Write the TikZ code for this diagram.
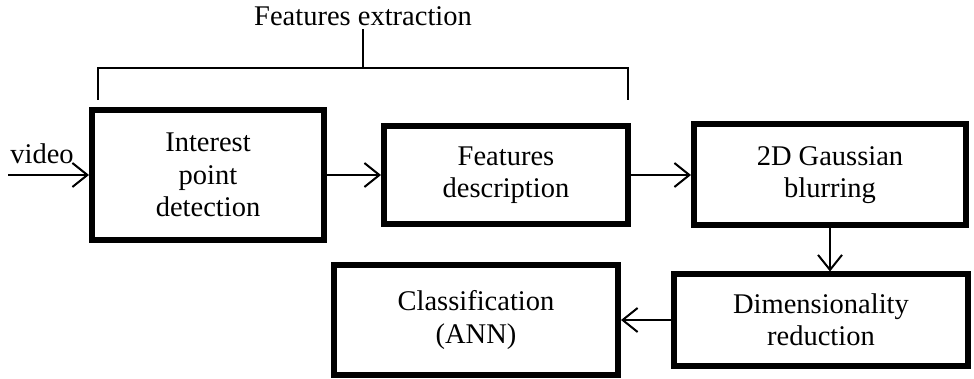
\documentclass[tikz,border=0pt]{standalone}
\usepackage{fontspec}
\setmainfont{Liberation Serif}
\usetikzlibrary{arrows.meta}

\begin{document}
\begin{tikzpicture}[x=1pt,y=-1pt,font=\fontsize{28.5}{32.5}\selectfont,
  >={Straight Barb[length=15pt,width=24pt]},
  blk/.style={draw,line width=6pt,align=center,inner sep=0pt},
  arr/.style={->,line width=2pt}]
  \useasboundingbox (0,0) rectangle (974,379);
  % blocks
  \node[blk,minimum width=232,minimum height=130] (ipd) at (208,175) {Interest\\point\\detection};
  \node[blk,minimum width=244,minimum height=98] (fd) at (506,175) {Features\\description};
  \node[blk,minimum width=272,minimum height=101] (gb) at (830,175) {2D Gaussian\\blurring};
  \node[blk,minimum width=294,minimum height=91] (dr) at (821,320) {Dimensionality\\reduction};
  \node[blk,minimum width=284,minimum height=109] (cls) at (476,320) {Classification\\(ANN)};
  % bracket over the first two blocks
  \node (fe) at (363,16) {Features extraction};
  \coordinate (brm) at (363,68);
  \coordinate (brl) at (98,100);
  \coordinate (brr) at (628,100);
  \draw[line width=2pt] (brl) |- (brm) -| (brr);
  \draw[line width=2pt] (fe.south) -- (brm);
  % flow
  \coordinate (vin) at (8,175);
  \draw[arr] (vin) -- (ipd) node[pos=0.42,above=7pt] (vid) {video};
  \draw[arr] (ipd) -- (fd);
  \draw[arr] (fd) -- (gb);
  \draw[arr] (gb) -- (gb |- dr.north);
  \draw[arr] (dr) -- (cls);
\end{tikzpicture}
\end{document}
